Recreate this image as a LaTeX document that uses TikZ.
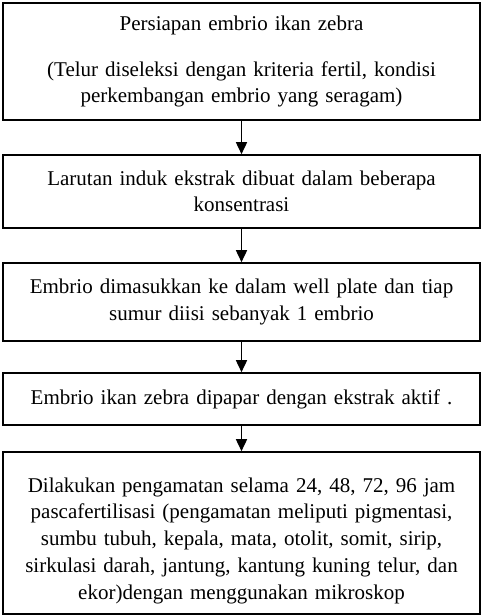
\documentclass[tikz,border=0pt]{standalone}
\usepackage{fontspec}
\setmainfont{Liberation Serif}
\usetikzlibrary{arrows.meta}

\tikzset{
  box/.style={draw, line width=1.6pt, minimum width=477pt, text width=468pt,
    align=center, inner sep=0pt, font=\fontsize{21}{26.3}\selectfont},
  flow/.style={line width=1.6pt, -{Triangle[length=12pt,width=11pt]}}
}

\begin{document}
\begin{tikzpicture}[x=1pt, y=-1pt]
  \useasboundingbox (0,0) rectangle (483,616);
  \node[box, minimum height=117pt] (prep) at (241.5,61.5)
    {Persiapan embrio ikan zebra\\[20pt]
     (Telur diseleksi dengan kriteria fertil, kondisi\\
     perkembangan embrio yang seragam)};
  \node[box, minimum height=73pt] (stock) at (241.5,191.5)
    {Larutan induk ekstrak dibuat dalam beberapa\\ konsentrasi};
  \node[box, minimum height=78pt] (plate) at (241.5,302)
    {Embrio dimasukkan ke dalam well plate dan tiap\\ sumur diisi sebanyak 1 embrio};
  \node[box, minimum height=52pt] (expose) at (241.5,399)
    {Embrio ikan zebra dipapar dengan ekstrak aktif .};
  \node[box, minimum height=162pt, font=\fontsize{21}{26.8}\selectfont] (observe) at (241.5,533)
    {\rule{0pt}{30pt}Dilakukan pengamatan selama 24, 48, 72, 96 jam\\
     pascafertilisasi (pengamatan meliputi pigmentasi,\\
     sumbu tubuh, kepala, mata, otolit, somit, sirip,\\
     sirkulasi darah, jantung, kantung kuning telur, dan\\
     ekor)dengan menggunakan mikroskop};
  % alur
  \draw[flow] (prep) -- (stock);
  \draw[flow] (stock) -- (plate);
  \draw[flow] (plate) -- (expose);
  \draw[flow] (expose) -- (observe);
\end{tikzpicture}
\end{document}
